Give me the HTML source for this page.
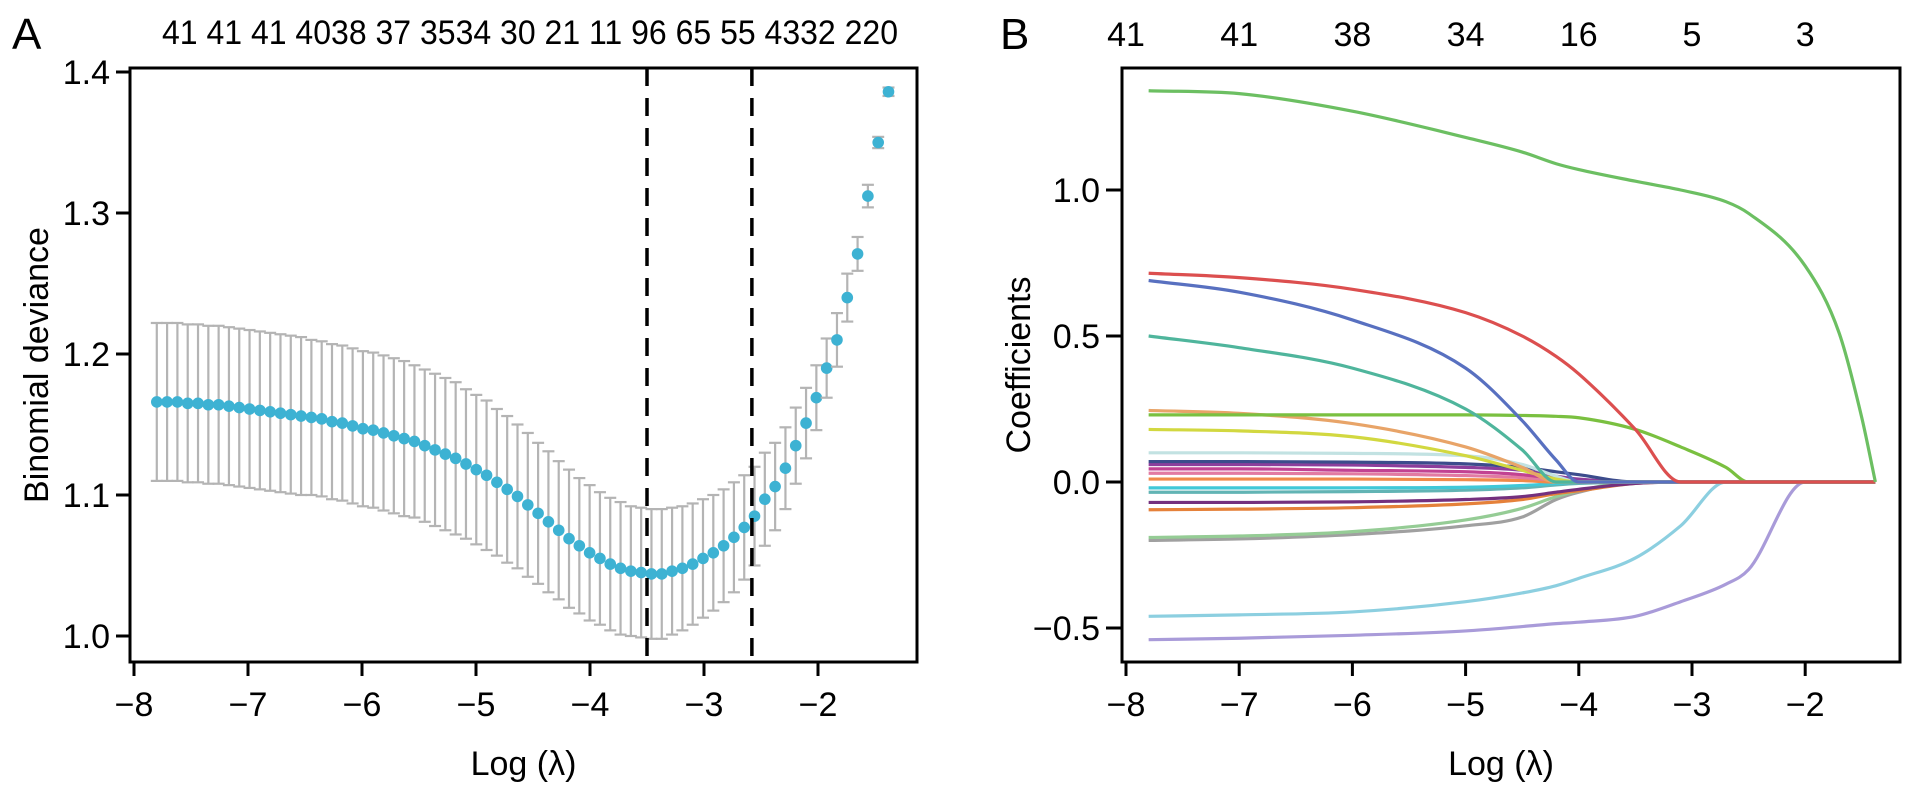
<!DOCTYPE html>
<html><head><meta charset="utf-8"><style>
html,body{margin:0;padding:0;background:#fff;}
svg{display:block;font-family:"Liberation Sans Narrow","Liberation Sans",Arial,sans-serif;}
</style></head><body>
<svg id="fig" width="1913" height="790" viewBox="0 0 1913 790">
<g id="pa"></g>
<g id="pb"></g>
</svg>
<script>
// ---------- Panel A data ----------
const aStart = -7.8, aStep = 0.0904;
const aMeans = [1.166,1.166,1.166,1.165,1.165,1.164,1.164,1.163,1.162,1.161,
1.160,1.159,1.158,1.157,1.156,1.155,1.154,1.152,1.151,1.149,
1.147,1.146,1.144,1.142,1.140,1.138,1.135,1.132,1.129,1.126,
1.122,1.118,1.114,1.109,1.104,1.099,1.093,1.087,1.081,1.075,
1.069,1.064,1.059,1.055,1.051,1.048,1.046,1.045,1.044,1.044,
1.046,1.048,1.051,1.055,1.059,1.064,1.070,1.077,1.085,
1.097,1.106,1.119,1.135,1.151,1.169,1.190,1.210,1.240,1.271,1.312,1.350,1.386];
const aSd = [0.056,0.056,0.056,0.056,0.056,0.056,0.056,0.056,0.056,0.056,
0.056,0.056,0.056,0.056,0.056,0.055,0.055,0.055,0.055,0.055,
0.055,0.055,0.055,0.055,0.055,0.054,0.054,0.054,0.054,0.054,
0.053,0.053,0.053,0.052,0.052,0.051,0.051,0.050,0.050,0.049,
0.049,0.048,0.048,0.047,0.047,0.047,0.046,0.046,0.046,0.046,
0.045,0.044,0.043,0.042,0.041,0.040,0.039,0.037,0.035,
0.033,0.031,0.029,0.027,0.025,0.023,0.021,0.019,0.017,0.012,0.008,0.004,0.003];
const aVlines = [-3.5, -2.58];
const aYTicks = [1.0,1.1,1.2,1.3,1.4];
const aYTickLabels = ["1.0","1.1","1.2","1.3","1.4"];
const xTicks = [-8,-7,-6,-5,-4,-3,-2];
const xTickLabels = ["\u22128","\u22127","\u22126","\u22125","\u22124","\u22123","\u22122"];
const aTopText = "41 41 41 4038 37 3534 30 21 11 96 65 55 4332 220";

// ---------- Panel B data ----------
const bGrid = [-7.8,-7,-6,-5,-4.5,-4.2,-4,-3.5,-3.1,-2.7,-2.5,-2,-1.7,-1.5,-1.38];
const sGreen1 = [1.34,1.33,1.27,1.18,1.13,1.09,1.07,1.03,1.00,0.96,0.92,0.74,0.51,0.22,0];
const sRed = [0.715,0.70,0.66,0.58,0.50,0.43,0.37,0.18,0,0,0,0,0,0,0];
const sBlue = [0.69,0.65,0.555,0.39,0.21,0.075,0,0,0,0,0,0,0,0,0];
const sTeal = [0.50,0.46,0.39,0.25,0.11,0,0,0,0,0,0,0,0,0,0];
const sGreen2 = [0.23,0.23,0.23,0.23,0.228,0.225,0.22,0.18,0.12,0.05,0,0,0,0,0];
const sOrange = [0.245,0.235,0.20,0.12,0.05,0,0,0,0,0,0,0,0,0,0];
const sYellow = [0.18,0.175,0.155,0.09,0.04,0.01,0,0,0,0,0,0,0,0,0];
const sLightCyan = [0.10,0.10,0.098,0.09,0.06,0.02,0,0,0,0,0,0,0,0,0];
const sNavy = [0.07,0.07,0.068,0.062,0.05,0.035,0.025,0,0,0,0,0,0,0,0];
const sPurple = [0.06,0.06,0.058,0.05,0.04,0.02,0.01,0,0,0,0,0,0,0,0];
const sMagenta = [0.045,0.045,0.04,0.035,0.025,0.012,0.005,0,0,0,0,0,0,0,0];
const sPink = [0.03,0.03,0.028,0.022,0.015,0.006,0,0,0,0,0,0,0,0,0];
const sOrange2 = [0.01,0.01,0.01,0.008,0.005,0,0,0,0,0,0,0,0,0,0];
const sCyan = [-0.02,-0.02,-0.02,-0.018,-0.012,-0.005,0,0,0,0,0,0,0,0,0];
const sTeal2 = [-0.035,-0.035,-0.033,-0.028,-0.02,-0.01,-0.005,0,0,0,0,0,0,0,0];
const sDarkPurple = [-0.07,-0.07,-0.068,-0.06,-0.05,-0.035,-0.025,-0.005,0,0,0,0,0,0,0];
const sOrange3 = [-0.095,-0.093,-0.088,-0.075,-0.06,-0.04,-0.03,-0.005,0,0,0,0,0,0,0];
const sLightGreen = [-0.19,-0.185,-0.17,-0.13,-0.09,-0.05,-0.03,0,0,0,0,0,0,0,0];
const sGray = [-0.20,-0.195,-0.18,-0.15,-0.12,-0.06,-0.035,0,0,0,0,0,0,0,0];
const sLightBlue = [-0.46,-0.455,-0.445,-0.41,-0.38,-0.355,-0.33,-0.26,-0.15,0,0,0,0,0,0];
const sLavender = [-0.54,-0.535,-0.525,-0.51,-0.495,-0.485,-0.48,-0.46,-0.41,-0.35,-0.30,0,0,0,0];
const bYTicks = [-0.5,0,0.5,1.0];
const bYTickLabels = ["\u22120.5","0.0","0.5","1.0"];
const bTopLabels = ["41","41","38","34","16","5","3"];

const NS = "http://www.w3.org/2000/svg";
function mk(parent, tag, attrs, text){
  const e = document.createElementNS(NS, tag);
  for (const k in attrs) e.setAttribute(k, attrs[k]);
  if (text !== undefined) e.textContent = text;
  parent.appendChild(e);
  return e;
}
const TF = 34;

// ---------- Panel A ----------
const A = {left:130, right:917, top:68, bottom:662};
const axA = v => 134 + (v + 8) * 114;
const ayA = v => 636 - (v - 1.0) * 1410;
const pa = document.getElementById('pa');

let t = mk(pa,'text',{x:12,y:49,'font-size':44},'A');



t = mk(pa,'text',{x:162,y:44,'font-size':TF,textLength:736,lengthAdjust:'spacingAndGlyphs'},aTopText);



aMeans.forEach((m,i)=>{
  const x = axA(aStart + i*aStep);
  const g = mk(pa,'g',{});
  
  
  const y1 = ayA(m + aSd[i]), y2 = ayA(m - aSd[i]);
  mk(g,'line',{x1:x,x2:x,y1:y1,y2:y2,stroke:'#b4b4b4','stroke-width':2.2});
  mk(g,'line',{x1:x-6,x2:x+6,y1:y1,y2:y1,stroke:'#b4b4b4','stroke-width':2.2});
  mk(g,'line',{x1:x-6,x2:x+6,y1:y2,y2:y2,stroke:'#b4b4b4','stroke-width':2.2});
  mk(g,'circle',{cx:x,cy:ayA(m),r:5.8,fill:'#3db2d3'});
});

aVlines.forEach((v,i)=>{
  const l = mk(pa,'line',{x1:axA(v),x2:axA(v),y1:A.top,y2:A.bottom,stroke:'#000','stroke-width':3.5,'stroke-dasharray':'18,12'});
  
  
});

let r = mk(pa,'rect',{x:A.left,y:A.top,width:A.right-A.left,height:A.bottom-A.top,fill:'none',stroke:'#000','stroke-width':3});



aYTicks.forEach((v,i)=>{
  const y = ayA(v);
  mk(pa,'line',{x1:A.left-14,x2:A.left,y1:y,y2:y,stroke:'#000','stroke-width':3});
  const tt = mk(pa,'text',{x:A.left-20,y:y+12,'font-size':TF,'text-anchor':'end'},aYTickLabels[i]);
  
  
});
xTicks.forEach((v,i)=>{
  const x = axA(v);
  mk(pa,'line',{x1:x,x2:x,y1:A.bottom,y2:A.bottom+14,stroke:'#000','stroke-width':3});
  const tt = mk(pa,'text',{x:x,y:716,'font-size':TF,'text-anchor':'middle'},xTickLabels[i]);
  
  
});
t = mk(pa,'text',{x:(A.left+A.right)/2,y:775,'font-size':TF,'text-anchor':'middle'},'Log (\u03bb)');


t = mk(pa,'text',{x:48,y:(A.top+A.bottom)/2,'font-size':TF,'text-anchor':'middle',transform:'rotate(-90 48 '+((A.top+A.bottom)/2)+')'},'Binomial deviance');



// ---------- Panel B ----------
const B = {left:1122, right:1900, top:68, bottom:662};
const axB = v => 1126 + (v + 8) * 113.2;
const ayB = v => 482 - v * 292;
const pb = document.getElementById('pb');

t = mk(pb,'text',{x:1000,y:49,'font-size':44},'B');



bTopLabels.forEach((s,i)=>{
  const tt = mk(pb,'text',{x:axB(xTicks[i]),y:46,'font-size':TF,'text-anchor':'middle'},s);
  
  
});

const series = [
 ['coef-lavender',sLavender,'#a99bd9'],['coef-lightblue',sLightBlue,'#8ccfe0'],
 ['coef-gray',sGray,'#a0a0a0'],['coef-lightgreen',sLightGreen,'#95cc95'],
 ['coef-orange3',sOrange3,'#e5813a'],['coef-darkpurple',sDarkPurple,'#74307e'],
 ['coef-teal2',sTeal2,'#62b4b4'],['coef-cyan',sCyan,'#40c8d8'],
 ['coef-orange2',sOrange2,'#f08a4a'],['coef-pink',sPink,'#e27aa2'],
 ['coef-magenta',sMagenta,'#c24292'],['coef-purple',sPurple,'#8c3e9c'],
 ['coef-navy',sNavy,'#3c4c8c'],['coef-lightcyan',sLightCyan,'#c2e2e2'],
 ['coef-yellow',sYellow,'#d2d840'],['coef-orange',sOrange,'#e8a468'],
 ['coef-green2',sGreen2,'#7ac040'],['coef-teal',sTeal,'#4fb59c'],
 ['coef-blue',sBlue,'#5870c0'],['coef-red',sRed,'#dc4f4f'],
 ['coef-green1',sGreen1,'#6cbf62']
];
// monotone cubic (Fritsch-Carlson) to avoid overshoot
function monoPath(pts){
  const n = pts.length, dx=[], dy=[], m=[], tg=[];
  for (let i=0;i<n-1;i++){ dx[i]=pts[i+1][0]-pts[i][0]; dy[i]=pts[i+1][1]-pts[i][1]; m[i]=dy[i]/dx[i]; }
  tg[0]=m[0]; tg[n-1]=m[n-2];
  for (let i=1;i<n-1;i++){ tg[i] = (m[i-1]*m[i]<=0) ? 0 : (m[i-1]+m[i])/2; }
  for (let i=0;i<n-1;i++){
    if (m[i]===0){ tg[i]=0; tg[i+1]=0; continue; }
    const a=tg[i]/m[i], b=tg[i+1]/m[i], s=a*a+b*b;
    if (s>9){ const k=3/Math.sqrt(s); tg[i]=k*a*m[i]; tg[i+1]=k*b*m[i]; }
  }
  let d='M'+pts[0][0]+','+pts[0][1];
  for (let i=0;i<n-1;i++){
    const h=dx[i]/3;
    d+=' C'+(pts[i][0]+h)+','+(pts[i][1]+tg[i]*h)+' '+(pts[i+1][0]-h)+','+(pts[i+1][1]-tg[i+1]*h)+' '+pts[i+1][0]+','+pts[i+1][1];
  }
  return d;
}
series.forEach(s=>{
  const pts = bGrid.map((g,i)=>[axB(g), ayB(s[1][i])]);
  const p = mk(pb,'path',{d:monoPath(pts),fill:'none',stroke:s[2],'stroke-width':3.2,'stroke-linejoin':'round'});
  
  
});

r = mk(pb,'rect',{x:B.left,y:B.top,width:B.right-B.left,height:B.bottom-B.top,fill:'none',stroke:'#000','stroke-width':3});



bYTicks.forEach((v,i)=>{
  const y = ayB(v);
  mk(pb,'line',{x1:B.left-16,x2:B.left,y1:y,y2:y,stroke:'#000','stroke-width':3});
  const tt = mk(pb,'text',{x:B.left-22,y:y+12,'font-size':TF,'text-anchor':'end'},bYTickLabels[i]);
  
  
});
xTicks.forEach((v,i)=>{
  const x = axB(v);
  mk(pb,'line',{x1:x,x2:x,y1:B.bottom,y2:B.bottom+14,stroke:'#000','stroke-width':3});
  const tt = mk(pb,'text',{x:x,y:716,'font-size':TF,'text-anchor':'middle'},xTickLabels[i]);
  
  
});
t = mk(pb,'text',{x:(B.left+B.right)/2 - 10,y:775,'font-size':TF,'text-anchor':'middle'},'Log (\u03bb)');


t = mk(pb,'text',{x:1030,y:(B.top+B.bottom)/2,'font-size':TF,'text-anchor':'middle',transform:'rotate(-90 1030 '+((B.top+B.bottom)/2)+')'},'Coefficients');


</script>
</body></html>
